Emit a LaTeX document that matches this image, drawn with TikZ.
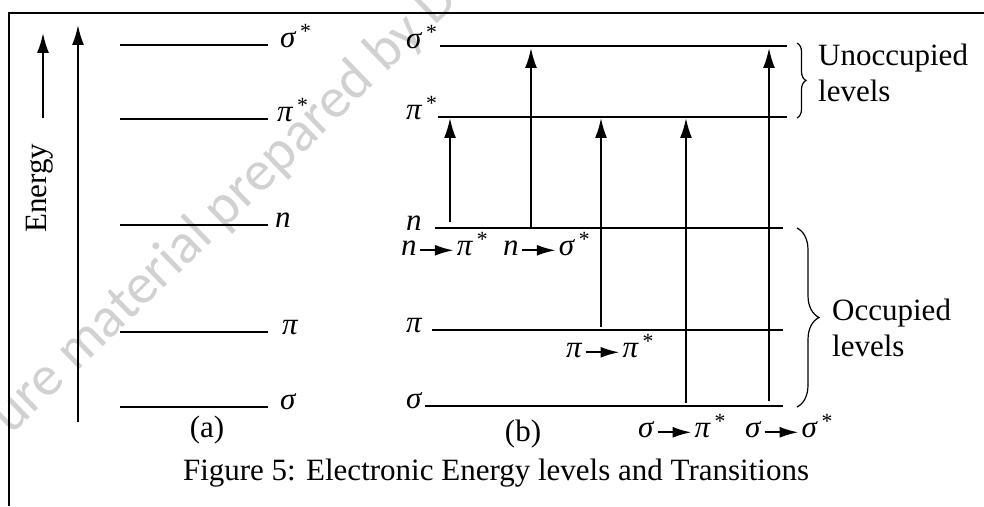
\documentclass[tikz,border=0pt]{standalone}
\usepackage{fontspec}
\setmainfont{Liberation Serif}
\newfontfamily\wmfont{Carlito}
\usetikzlibrary{arrows.meta,decorations.pathreplacing}
\newcommand{\gk}[1]{\textit{#1}}
\newcommand{\sstar}{\textsuperscript{\,*}}
\newcommand{\tto}{\hspace{2pt}\tikz[baseline={(0pt,-5pt)}]\draw[-{Latex[length=19pt,width=11pt]}, line width=2.2pt] (0pt,0pt) -- (34pt,0pt);\hspace{2pt}}
\tikzset{
  level/.style={line width=2pt},
  trans/.style={-{Latex[length=20pt,width=12pt]}, line width=2pt},
  frame/.style={line width=1.7pt},
  curly/.style={decorate, decoration={brace, amplitude=#1}, line width=1.2pt},
  lvllabel/.style={anchor=mid west, inner sep=0pt},
  wmark/.style={text=black!18, font=\fontsize{57}{57}\selectfont\wmfont}
}
\begin{document}
\begin{tikzpicture}[x=1pt, y=1pt, every node/.style={font=\fontsize{31}{36}\selectfont}]
  \useasboundingbox (0,0) rectangle (984,506);
  % watermark
  \begin{scope}
    \clip (0,0) rectangle (984,506);
    \node[wmark, rotate=44] (wm) at (225,298) {ure material prepared by D};
  \end{scope}
  % frame
  \draw[frame] (984,493) -- (9,493) -- (9,0);
  % energy axis
  \coordinate (e-lo) at (43,388);
  \coordinate (e-hi) at (43,473);
  \draw[trans] (e-lo) -- (e-hi);
  \node[rotate=90] (energy) at (40,318) {Energy};
  \coordinate (ax-lo) at (78,84);
  \coordinate (ax-hi) at (78,481);
  \draw[trans] (ax-lo) -- (ax-hi);
  % (a) levels
  \foreach \nm/\y/\lx/\txt in {ss/461/280/{\gk{σ}\sstar}, ps/387/277/{\gk{π}\sstar}, n/281/275/{\gk{n}}, p/174/282/{\gk{π}}, s/99/280/{\gk{σ}}} {
    \draw[level] (120,\y) coordinate (a-\nm-l) -- (268,\y) coordinate (a-\nm-r);
    \node[lvllabel] (a-\nm) at (\lx,\y) {\txt};
  }
  \node[anchor=base] (cap-a) at (207,69) {(a)};
  % (b) levels
  \foreach \nm/\y/\xa/\xb/\txt in {ss/460/440/787/{\gk{σ}\sstar}, ps/389/438/787/{\gk{π}\sstar}, n/278/435/783/{\gk{n}}, p/176/432/783/{\gk{π}}, s/100/425/783/{\gk{σ}}} {
    \node[lvllabel] (b-\nm) at (406,\y) {\txt};
    \draw[level] (\xa,\y) coordinate (b-\nm-l) -- (\xb,\y) coordinate (b-\nm-r);
  }
  \node[anchor=base] (cap-b) at (523,65) {(b)};
  % transitions
  \foreach \i/\x/\ya/\yb in {1/450/284/388, 2/531/278/458, 3/601/179/388, 4/686/103/388, 5/769/105/458} {
    \coordinate (up\i-a) at (\x,\ya);
    \coordinate (up\i-b) at (\x,\yb);
    \draw[trans] (up\i-a) -- (up\i-b);
  }
  \node[lvllabel] (t-npi) at (401,253) {\gk{n}\tto\gk{π}\sstar};
  \node[lvllabel] (t-nsig) at (503,253) {\gk{n}\tto\gk{σ}\sstar};
  \node[lvllabel] (t-pipi) at (566,151) {\gk{π}\tto\gk{π}\sstar};
  \node[lvllabel] (t-spi) at (638,71) {\gk{σ}\tto\gk{π}\sstar};
  \node[lvllabel] (t-ssig) at (745,71) {\gk{σ}\tto\gk{σ}\sstar};
  % braces
  \coordinate (uo-top) at (797,463);
  \coordinate (uo-bot) at (797,388);
  \draw[curly=9pt] (uo-top) -- (uo-bot);
  \node[anchor=north west, align=left, inner sep=0pt] (uo) at (818,462) {Unoccupied\\levels};
  \coordinate (oc-top) at (797,278);
  \coordinate (oc-bot) at (797,99);
  \draw[curly=22pt] (oc-top) -- (oc-bot);
  \node[anchor=north west, align=left, inner sep=0pt] (oc) at (832,207) {Occupied\\levels};
  % caption
  \node[anchor=base] (caption) at (496,26) {Figure 5: Electronic Energy levels and Transitions};
\end{tikzpicture}
\end{document}
